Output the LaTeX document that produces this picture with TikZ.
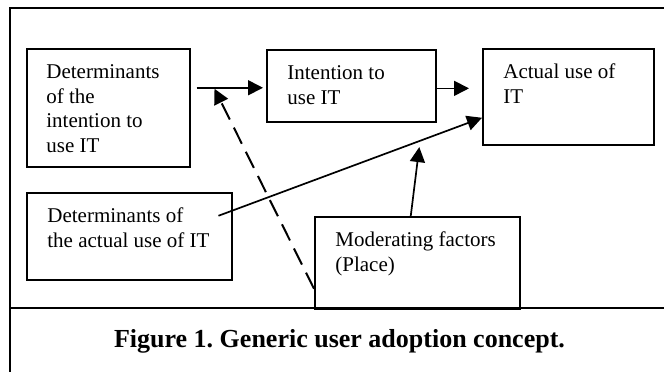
\documentclass[tikz,border=0pt]{standalone}
\usepackage{fontspec}
\setmainfont{Liberation Serif}
\usetikzlibrary{arrows.meta, positioning, calc}

\begin{document}
\begin{tikzpicture}[
    x=0.5pt, y=-0.5pt,
    box/.style 2 args={draw, line width=0.75pt, anchor=north west, inner sep=0pt, minimum width=#1, minimum height=#2},
    txt/.style={anchor=north west, inner sep=0pt, align=left, font=\fontsize{10.5}{12.4}\selectfont},
    arrow/.style={-{Triangle[length=7.5pt, width=7.5pt]}, line width=0.85pt},
    frame/.style={line width=1.3pt}
]
\useasboundingbox (0,0) rectangle (664,372);

% Boxes
\node[box={81.5pt}{59pt}] (detint) at (26,48) {};
\node[box={84.5pt}{36pt}] (intent) at (266,49) {};
\node[box={85.5pt}{48pt}] (actual) at (482,48) {};
\node[box={102.5pt}{43.5pt}] (detact) at (26,192) {};
\node[box={102.5pt}{46pt}] (moder) at (314,216) {};

% Texts
\node[txt] (detint-t) at ($(detint.north west)+(10pt,-6.25pt)$) {\strut Determinants\\of the\\intention to\\use IT};
\node[txt] (intent-t) at ($(intent.north west)+(10.5pt,-6.25pt)$) {\strut Intention to\\use IT};
\node[txt] (actual-t) at ($(actual.north west)+(10.5pt,-6.25pt)$) {\strut Actual use of\\IT};
\node[txt] (detact-t) at ($(detact.north west)+(10.5pt,-6.25pt)$) {\strut Determinants of\\the actual use of IT};
\node[txt] (moder-t) at ($(moder.north west)+(10.5pt,-6.25pt)$) {\strut Moderating factors\\(Place)};

% Frame
\draw[frame] (664,8) -- (10,8) -- (10,372);
\draw[frame] (10,308) -- (664,308);

% Caption
\node[font=\fontsize{13}{15}\selectfont\bfseries, anchor=base, inner sep=0pt] (caption) at (339.5,347) {Figure 1.\ Generic user adoption concept.};

% Arrows
\coordinate (a1) at ($(detint.east |- intent.west)+(3pt,-1pt)$);
\coordinate (d1) at ($(a1)+(9pt,-0.5pt)$);
\coordinate (u1) at ($(detact.east)+(-7pt,10.25pt)$);
\coordinate (u2) at ($(actual.west)+(0,-10.5pt)$);
\draw[arrow] (a1) -- ($(intent.west)+(-1.5pt,-1pt)$);
\draw[arrow] ($(intent.east)+(0,-1.3pt)$) -- ($(actual.west |- intent.east)+(-6.5pt,-1.3pt)$);
\draw[arrow, line width=1pt, dash pattern=on 9pt off 4.5pt] ($(moder.west)+(0,-13pt)$) -- (d1);
\draw[arrow] (u1) -- (u2);
\draw[arrow] ($(moder.north)+(-3.25pt,0)$) -- ($(u1)!0.762!(u2)+(0,-3pt)$);

\end{tikzpicture}
\end{document}
